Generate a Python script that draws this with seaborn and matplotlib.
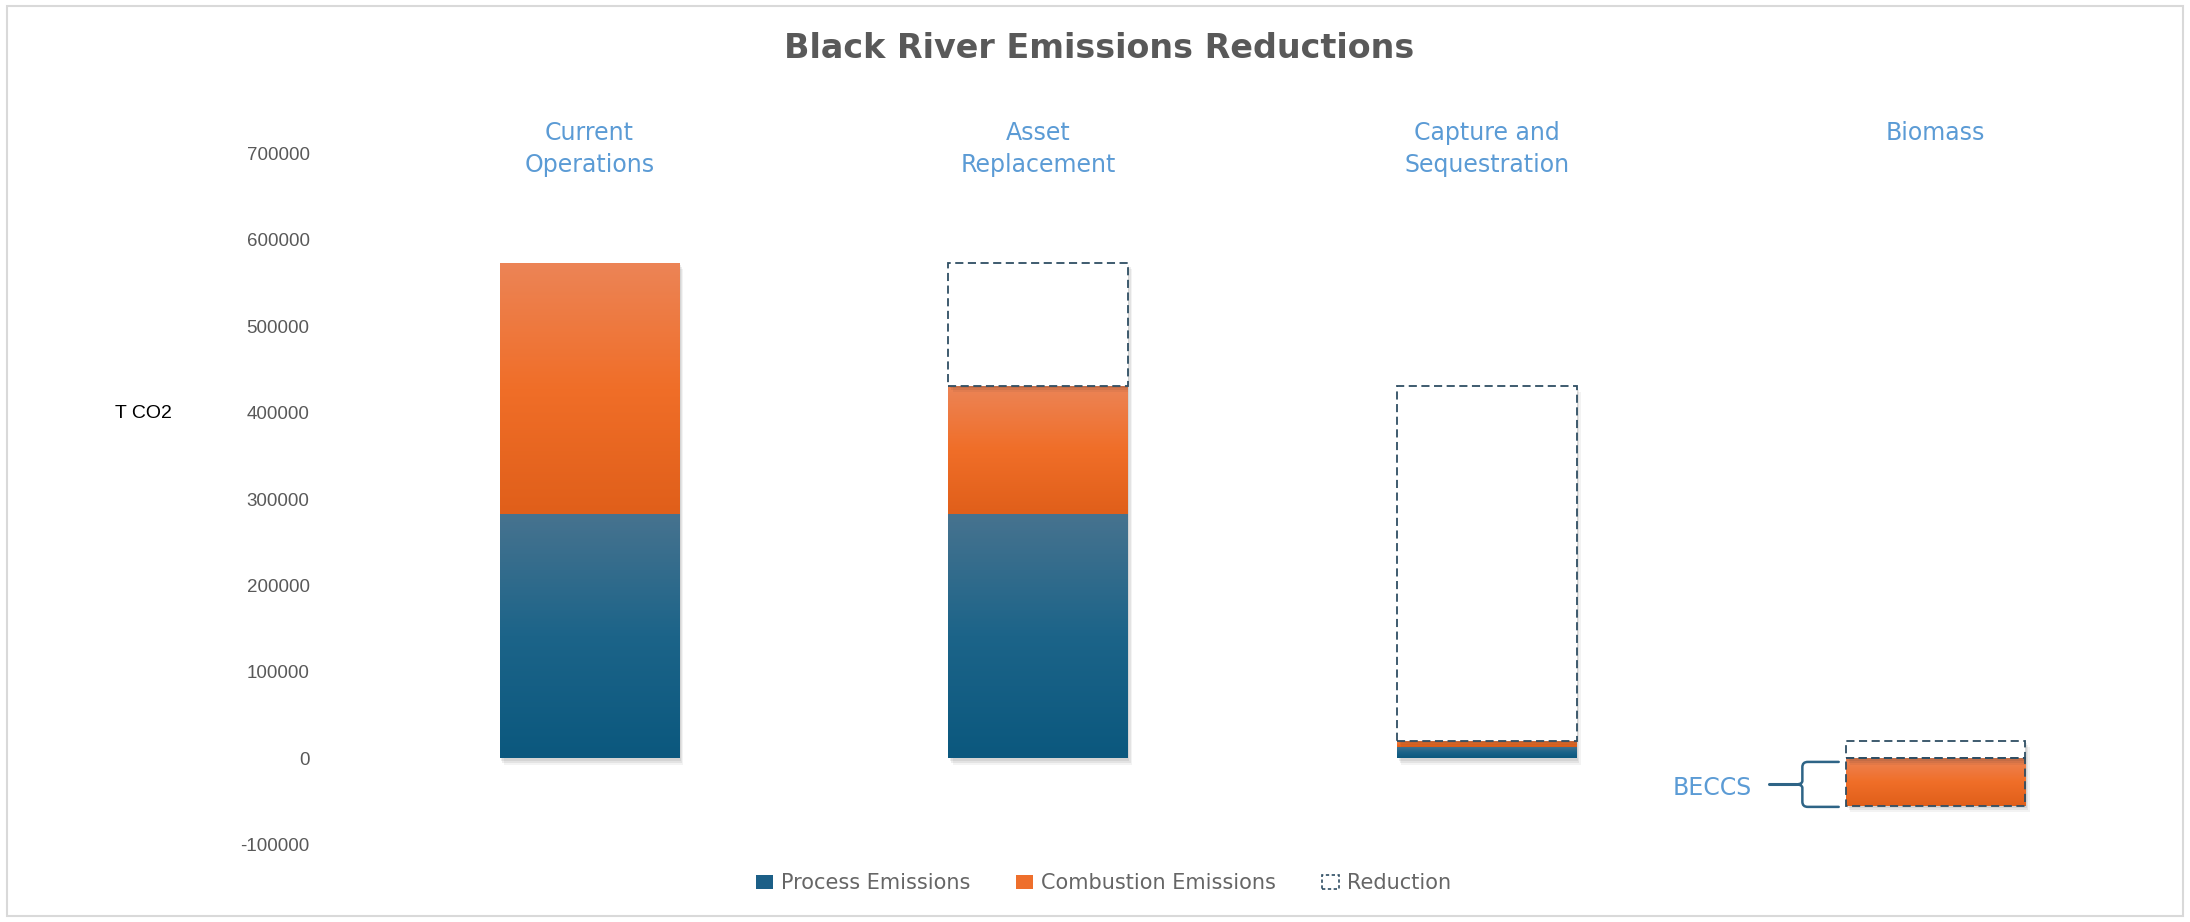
import numpy as np
import pandas as pd
import matplotlib
matplotlib.use("Agg")
import matplotlib.pyplot as plt
import matplotlib.transforms as mtransforms
import seaborn as sns
from matplotlib import font_manager
from matplotlib import patheffects as pe
from matplotlib.colors import LinearSegmentedColormap
from matplotlib.patches import Patch, PathPatch, Rectangle
from matplotlib.path import Path

# ---- chart data ----
categories = ["Current\nOperations", "Asset\nReplacement",
              "Capture and\nSequestration", "Biomass"]
process_emissions = [283000, 283000, 13000, 0]
combustion_emissions = [290000, 148000, 7000, -55000]
reduction = [0, 142000, 411000, 20000]
series_labels = ["Process Emissions", "Combustion Emissions", "Reduction"]
y_ticks = [-100000, 0, 100000, 200000, 300000, 400000, 500000, 600000, 700000]
y_tick_labels = ["-100000", "0", "100000", "200000", "300000",
                 "400000", "500000", "600000", "700000"]
chart_title = "Black River Emissions Reductions"
y_title = "T CO2"
brace_label = "BECCS"


def pick_font(names):
    for name in names:
        try:
            font_manager.findfont(name, fallback_to_default=False)
            return name
        except Exception:
            continue
    return "DejaVu Sans"


sns.set_theme(style="white")
regular = pick_font(["Liberation Sans", "DejaVu Sans"])
wide = "DejaVu Sans"
plt.rcParams["font.family"] = [regular, "DejaVu Sans"]

BLUE = "#1c5f87"
ORANGE = "#ee6f2c"
DASH = "#2f4e63"
LABEL_BLUE = "#5b9bd5"
GREY = "#595959"

blue_grad = LinearSegmentedColormap.from_list("blue_grad", ["#47738f", "#1c6489", "#0b587e"])
orange_grad = LinearSegmentedColormap.from_list("orange_grad", ["#ec8456", "#f06e28", "#e05f1a"])

df = pd.DataFrame({
    "category": categories,
    "process": process_emissions,
    "combustion": combustion_emissions,
    "reduction": reduction,
})
proc = np.array(process_emissions, dtype=float)
comb = np.array(combustion_emissions, dtype=float)
comb_bottom = np.where(comb >= 0, proc, 0.0)
red_bottom = proc + np.clip(comb, 0, None)

fig = plt.figure(figsize=(21.9, 9.22), dpi=100)
ax = fig.add_axes([0.1667, 0.0836, 0.8196, 0.7502])

shadow = [pe.SimplePatchShadow(offset=(1, -1.5), shadow_rgbFace="k", alpha=0.08),
          pe.SimplePatchShadow(offset=(2, -3), shadow_rgbFace="k", alpha=0.07),
          pe.SimplePatchShadow(offset=(3, -4.5), shadow_rgbFace="k", alpha=0.05),
          pe.Normal()]

sns.barplot(data=df, x="category", y="process", order=categories, color=BLUE,
            saturation=1, width=0.4, errorbar=None, linewidth=0, zorder=2, ax=ax)
sns.barplot(data=df, x="category", y="combustion", order=categories, color=ORANGE,
            saturation=1, width=0.4, errorbar=None, linewidth=0, zorder=2,
            bottom=comb_bottom, ax=ax)
sns.barplot(data=df, x="category", y="reduction", order=categories, color="white",
            saturation=1, width=0.4, errorbar=None, linewidth=1.3, edgecolor=DASH,
            linestyle=(0, (4.5, 2.5)), zorder=3, bottom=red_bottom, ax=ax)

proc_bars, comb_bars, red_bars = ax.containers[0], ax.containers[1], ax.containers[2]

# vertical gradient fill for the coloured segments
grad = np.linspace(0, 1, 256).reshape(-1, 1)
for bars, cmap in ((proc_bars, blue_grad), (comb_bars, orange_grad)):
    for patch in bars:
        h = patch.get_height()
        if h == 0:
            patch.set_visible(False)
            continue
        patch.set_path_effects(shadow)
        x0 = patch.get_x()
        x1 = x0 + patch.get_width()
        y0 = patch.get_y()
        y1 = y0 + h
        im = ax.imshow(grad, cmap=cmap, aspect="auto", origin="upper",
                       extent=[x0, x1, min(y0, y1), max(y0, y1)], zorder=2.5,
                       interpolation="bilinear")
        im.set_clip_path(patch)

for patch in red_bars:
    if patch.get_height() == 0:
        patch.set_visible(False)
    else:
        patch.set_path_effects(shadow)

# dashed outline around negative (captured) combustion
for patch, val in zip(comb_bars, combustion_emissions):
    if val < 0:
        ax.add_patch(Rectangle(patch.get_xy(), patch.get_width(), patch.get_height(),
                               fill=False, edgecolor=DASH, linewidth=1.3,
                               linestyle=(0, (4.5, 2.5)), zorder=4))

ax.set_xlim(-0.5, len(categories) - 0.5)
ax.set_ylim(y_ticks[0], y_ticks[-1])
ax.set_yticks(y_ticks)
ax.set_yticklabels(y_tick_labels)
ax.tick_params(axis="y", length=0, pad=40, labelsize=13.5, labelcolor=GREY)
ax.tick_params(axis="x", length=0, labelbottom=False)
ax.set_xlabel("")
ax.set_ylabel("")
ax.grid(False)
sns.despine(ax=ax, left=True, bottom=True)

# category names above the columns
top_trans = mtransforms.blended_transform_factory(ax.transData, fig.transFigure)
for i, name in enumerate(categories):
    ax.text(i, 0.869, name, transform=top_trans, ha="center", va="top",
            color=LABEL_BLUE, fontsize=17, linespacing=1.42, family=wide)

# brace marking the BECCS (negative) portion of the biomass column
bi = len(categories) - 1
bar = comb_bars[bi]
x_tip = bar.get_x() - 0.016
x_v = bar.get_x() - 0.097
x_cusp = bar.get_x() - 0.112
x_line = bar.get_x() - 0.171
rx = 0.012
y_top = -4000.0
y_bot = float(combustion_emissions[bi]) - 1000
y_c = (y_top + y_bot) / 2
ry, ry2 = 6000, 4000
verts = [(x_tip, y_top), (x_v + rx, y_top),
         (x_v, y_top), (x_v, y_top - ry),
         (x_v, y_c + ry2),
         (x_v, y_c), (x_cusp, y_c),
         (x_v, y_c), (x_v, y_c - ry2),
         (x_v, y_bot + ry),
         (x_v, y_bot), (x_v + rx, y_bot),
         (x_tip, y_bot)]
codes = [Path.MOVETO, Path.LINETO,
         Path.CURVE3, Path.CURVE3,
         Path.LINETO,
         Path.CURVE3, Path.CURVE3,
         Path.CURVE3, Path.CURVE3,
         Path.LINETO,
         Path.CURVE3, Path.CURVE3,
         Path.LINETO]
ax.add_patch(PathPatch(Path(verts, codes), fill=False, edgecolor="#2e6486",
                       linewidth=1.8, zorder=4, capstyle="round", joinstyle="round"))
ax.plot([x_line, x_cusp], [y_c, y_c], color="#2e6486", linewidth=2.2, zorder=4)
ax.text(bar.get_x() - 0.209, y_c - 4000, brace_label, ha="right", va="center",
        color=LABEL_BLUE, fontsize=17, family=wide)

fig.text(0.502, 0.947, chart_title, ha="center", va="center", fontsize=24,
         fontweight="bold", color=GREY, family=wide)
fig.text(0.0525, 0.552, y_title, ha="left", va="center", fontsize=14, color="black")

handles = [Patch(facecolor=BLUE, edgecolor="none"),
           Patch(facecolor=ORANGE, edgecolor="none"),
           Patch(facecolor="white", edgecolor=DASH, linestyle=(0, (2, 1.5)), linewidth=1.2)]
fig.legend(handles, series_labels, loc="center", bbox_to_anchor=(0.504, 0.042),
           ncol=3, frameon=False, handlelength=0.8, handleheight=0.6,
           columnspacing=2.2, handletextpad=0.4, labelcolor="#666666",
           prop={"family": wide, "size": 15})

fig.add_artist(Rectangle((0.003, 0.006), 0.994, 0.988, transform=fig.transFigure,
                         fill=False, edgecolor="#d9d9d9", linewidth=1.5))

fig.savefig("out.png", dpi=100, facecolor="white")
